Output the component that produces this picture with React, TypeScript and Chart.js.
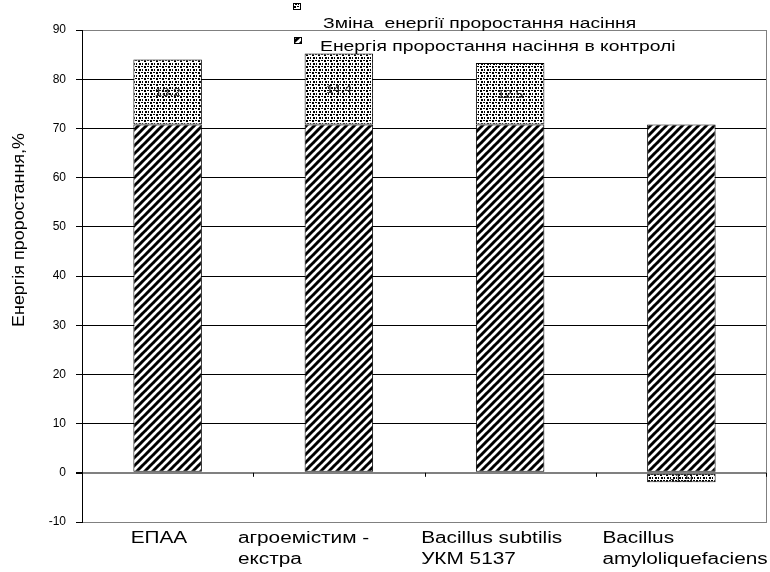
import React, { useEffect, useRef } from "react";
import { Chart, registerables } from "chart.js";

Chart.register(...registerables);

const categories: string[][] = [
  ["ЕПАА"],
  ["агроемістим -", "екстра"],
  ["Bacillus subtilis", "УКМ 5137"],
  ["Bacillus", "amyloliquefaciens"],
];
const controlValues = [70.8, 70.8, 70.8, 70.8];
const changeValues = [13.2, 14.4, 12.5, -1.9];
const seriesNames = [
  "Зміна  енергії проростання насіння",
  "Енергія проростання насіння в контролі",
];
const yTitle = "Енергія проростання,%";
const yMin = -10;
const yMax = 90;
const yStep = 10;

// horizontal shift of each category label's left edge relative to category centre (style)
const labelShift = [-37, -101, -89, -79];

const FONT = "'Liberation Sans', Arial, sans-serif";

function makeStripePattern(): CanvasPattern | string {
  const c = document.createElement("canvas");
  const s = 8;
  c.width = s;
  c.height = s;
  const g = c.getContext("2d");
  if (!g) return "#fff";
  g.fillStyle = "#fff";
  g.fillRect(0, 0, s, s);
  g.strokeStyle = "#000";
  g.lineWidth = 3;
  for (const o of [-s, 0, s]) {
    g.beginPath();
    g.moveTo(o - 1, s + 1);
    g.lineTo(o + s + 1, -1);
    g.stroke();
  }
  return g.createPattern(c, "repeat") || "#fff";
}

function makeDotPattern(): CanvasPattern | string {
  const c = document.createElement("canvas");
  const s = 6;
  c.width = s;
  c.height = s;
  const g = c.getContext("2d");
  if (!g) return "#fff";
  g.fillStyle = "#fff";
  g.fillRect(0, 0, s, s);
  g.fillStyle = "#000";
  g.fillRect(0, 0, 2, 2);
  g.fillRect(3, 0, 2, 1);
  g.fillRect(1, 3, 2, 2);
  g.fillRect(4, 3, 1, 2);
  return g.createPattern(c, "repeat") || "#fff";
}

function stretchedText(
  ctx: CanvasRenderingContext2D,
  text: string,
  x: number,
  y: number,
  sx: number
) {
  ctx.save();
  ctx.translate(x, y);
  ctx.scale(sx, 1);
  ctx.fillText(text, 0, 0);
  ctx.restore();
}

export default function App() {
  const ref = useRef<HTMLCanvasElement | null>(null);

  useEffect(() => {
    if (!ref.current) return;
    const stripes = makeStripePattern();
    const dots = makeDotPattern();

    const overlay = {
      id: "overlay",
      afterDraw(chart: any) {
        const ctx = chart.ctx as CanvasRenderingContext2D;
        const area = chart.chartArea;
        const xs = chart.scales.x;
        const ys = chart.scales.y;
        ctx.save();
        // right border
        ctx.strokeStyle = "#808080";
        ctx.lineWidth = 1;
        ctx.beginPath();
        ctx.moveTo(Math.round(area.right) - 0.5, area.top);
        ctx.lineTo(Math.round(area.right) - 0.5, area.bottom);
        ctx.stroke();
        // category boundary ticks at zero line
        const y0 = ys.getPixelForValue(0);
        ctx.strokeStyle = "#000";
        for (let i = 0; i < categories.length; i++) {
          const xb = i < categories.length - 1
            ? (xs.getPixelForValue(i) + xs.getPixelForValue(i + 1)) / 2
            : area.right - 1;
          ctx.beginPath();
          ctx.moveTo(Math.round(xb) + 0.5, y0);
          ctx.lineTo(Math.round(xb) + 0.5, y0 + 4);
          ctx.stroke();
        }
        // category labels
        ctx.fillStyle = "#000";
        ctx.font = `16px ${FONT}`;
        ctx.textAlign = "left";
        ctx.textBaseline = "alphabetic";
        categories.forEach((lines, i) => {
          const x = xs.getPixelForValue(i) + labelShift[i];
          lines.forEach((ln, j) => {
            stretchedText(ctx, ln, x, area.bottom + 21 + j * 21, 1.3);
          });
        });
        // data labels on change segments
        const meta = chart.getDatasetMeta(1);
        ctx.font = `11px ${FONT}`;
        ctx.textAlign = "center";
        ctx.textBaseline = "middle";
        ctx.fillStyle = "#222";
        meta.data.forEach((el: any, i: number) => {
          const v = changeValues[i];
          stretchedText(ctx, v.toFixed(1), el.x, (el.y + el.base) / 2 + 1, 1.2);
        });
        // y title
        ctx.save();
        ctx.translate(20, 230);
        ctx.rotate(-Math.PI / 2);
        ctx.font = `16px ${FONT}`;
        ctx.textAlign = "center";
        ctx.textBaseline = "middle";
        ctx.fillStyle = "#000";
        stretchedText(ctx, yTitle, 0, 0, 1.12);
        ctx.restore();
        // legend
        const legend = [
          { fill: dots, mx: 293, my: 3, tx: 323, ty: 28 },
          { fill: stripes, mx: 294, my: 37, tx: 320, ty: 51 },
        ];
        ctx.font = `14px ${FONT}`;
        ctx.textAlign = "left";
        ctx.textBaseline = "alphabetic";
        legend.forEach((l, i) => {
          ctx.fillStyle = l.fill as any;
          ctx.fillRect(l.mx, l.my, 7, 6);
          ctx.strokeStyle = "#000";
          ctx.lineWidth = 1;
          ctx.strokeRect(l.mx + 0.5, l.my + 0.5, 7, 6);
          ctx.fillStyle = "#000";
          stretchedText(ctx, seriesNames[i], l.tx, l.ty, 1.38);
        });
        ctx.restore();
      },
    };

    const chart = new Chart(ref.current, {
      type: "bar",
      data: {
        labels: categories.map((c) => c.join(" ")),
        datasets: [
          {
            label: seriesNames[1],
            data: controlValues,
            backgroundColor: stripes as any,
            borderColor: "#000",
            borderWidth: 1,
            borderSkipped: false,
            categoryPercentage: 1,
            barPercentage: 0.4,
          },
          {
            label: seriesNames[0],
            data: changeValues,
            backgroundColor: dots as any,
            borderColor: "#000",
            borderWidth: 1,
            borderSkipped: false,
            categoryPercentage: 1,
            barPercentage: 0.4,
          },
        ],
      },
      options: {
        animation: false,
        responsive: false,
        devicePixelRatio: 1,
        layout: { padding: { top: 30, right: 3, left: 0, bottom: 0 } },
        plugins: {
          legend: { display: false },
          tooltip: { enabled: false },
          title: { display: false },
        },
        scales: {
          x: {
            stacked: true,
            grid: { display: false },
            border: { display: false },
            ticks: { display: false },
            afterFit: (s: any) => {
              s.height = 50;
            },
          },
          y: {
            stacked: true,
            min: yMin,
            max: yMax,
            ticks: {
              stepSize: yStep,
              color: "#000",
              font: { family: FONT, size: 12 },
              padding: 10,
            },
            grid: {
              color: (c: any) =>
                c.tick && (c.tick.value === 0 || c.tick.value === yMin || c.tick.value === yMax)
                  ? "#808080"
                  : "#000",
              lineWidth: (c: any) => (c.tick && c.tick.value === 0 ? 2 : 1),
              tickColor: "#000",
              tickLength: 6,
            },
            border: { display: true, color: "#000", width: 1 },
            afterFit: (s: any) => {
              s.width = 82;
            },
          },
        },
      },
      plugins: [overlay],
    });
    return () => chart.destroy();
  }, []);

  return (
    <div style={{ position: "fixed", left: 0, top: 0, width: 770, height: 572, background: "#fff" }}>
      <canvas ref={ref} width={770} height={572} style={{ width: 770, height: 572 }} />
    </div>
  );
}
